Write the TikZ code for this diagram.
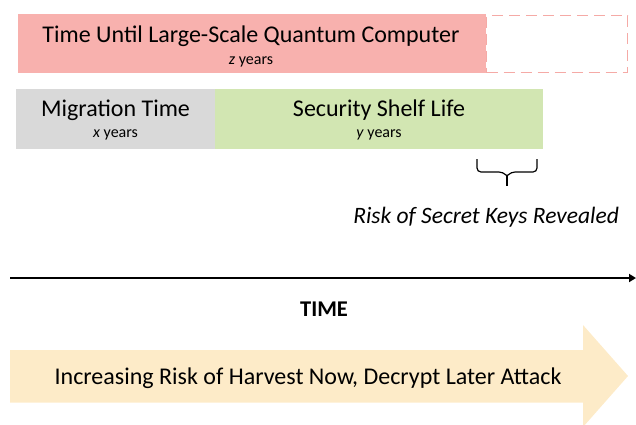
\documentclass[tikz,border=0pt]{standalone}
\usepackage{fontspec}
\setmainfont{Carlito}
\usetikzlibrary{arrows.meta}
\definecolor{qred}{RGB}{248,177,174}
\definecolor{qreddash}{RGB}{245,170,166}
\definecolor{qgray}{RGB}{217,217,217}
\definecolor{qgreen}{RGB}{210,230,178}
\definecolor{qyellow}{RGB}{253,235,200}
\tikzset{
  bar/.style={draw=none, inner sep=0pt, outer sep=0pt},
  bigtxt/.style={font=\fontsize{24}{28}\selectfont, inner sep=0pt},
  subtxt/.style={font=\fontsize{16}{18}\selectfont, inner sep=0pt},
}
\begin{document}
\begin{tikzpicture}[x=1pt,y=-1pt]
\useasboundingbox (0,0) rectangle (636,424);
\clip (0,0) rectangle (636,424);
% red box
\node[bar, fill=qred, minimum width=468pt, minimum height=59pt] (red) at (252,43.5) {};
\node[bar, draw=qreddash, line width=1.8pt, dash pattern=on 11pt off 6pt, minimum width=141pt, minimum height=57pt] (future) at (557,44) {};
\node[bigtxt] (redt) at (251,36) {Time Until Large-Scale Quantum Computer};
\node[subtxt] (redz) at (251,62) {\textit{z} years};
% gray + green
\node[bar, fill=qgray, minimum width=199.5pt, minimum height=59.5pt] (mig) at (115.25,118.75) {};
\node[bar, fill=qgreen, minimum width=328pt, minimum height=59.5pt] (shelf) at (379,118.75) {};
\node[bigtxt] (migt) at (115.5,110) {Migration Time};
\node[subtxt] (migx) at (115.5,135) {\textit{x} years};
\node[bigtxt] (shelft) at (379,110) {Security Shelf Life};
\node[subtxt] (shelfy) at (379,135) {\textit{y} years};
% brace
\coordinate (bl) at (477,159);
\coordinate (br) at (537,159);
\coordinate (bt) at (507,186);
\draw[line width=1.2pt, rounded corners=4pt] (bl) -- (477,172) -- (503,172) -- (507,176);
\draw[line width=1.2pt, rounded corners=4pt] (br) -- (537,172) -- (511,172) -- (507,176);
\draw[line width=1.2pt] (507,175) -- (bt);
\node[bigtxt, font=\fontsize{23.5}{28}\selectfont\itshape, anchor=east] (risk) at (619,217) {Risk of Secret Keys Revealed};
% time axis
\coordinate (t0) at (10,278);
\coordinate (t1) at (636,278);
\draw[line width=2pt, -{Triangle[length=7pt,width=8pt]}] (t0) -- (t1);
\node[bigtxt, font=\fontsize{22.5}{26}\selectfont\bfseries] (time) at (324,309) {TIME};
% big arrow
\fill[qyellow] (10,350) -- (583,350) -- (583,325) -- (628,376) -- (583,427) -- (583,402.5) -- (10,402.5) -- cycle;
\node[bigtxt] (hndl) at (308,378) {Increasing Risk of Harvest Now, Decrypt Later Attack};
\end{tikzpicture}
\end{document}
